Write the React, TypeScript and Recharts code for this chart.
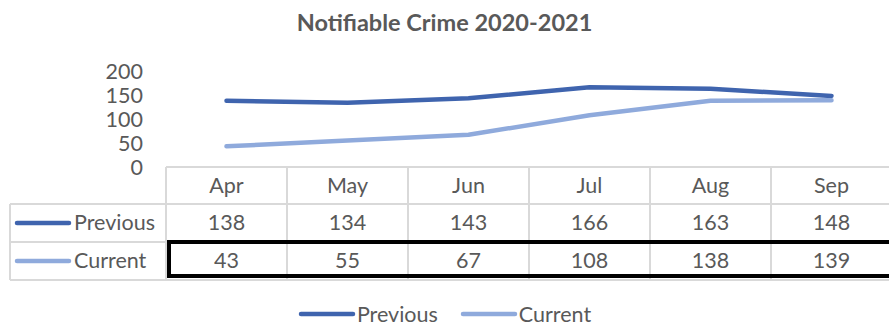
import React from 'react';
import { LineChart, Line, XAxis, YAxis } from 'recharts';

const categories = ['Apr', 'May', 'Jun', 'Jul', 'Aug', 'Sep'];
const previousValues = [138, 134, 143, 166, 163, 148];
const currentValues = [43, 55, 67, 108, 138, 139];
const yTicks = [0, 50, 100, 150, 200];
const seriesNames = ['Previous', 'Current'];
const seriesColors = ['#3F64AE', '#8FAADC'];

const data = categories.map((m, i) => ({
  month: m,
  Previous: previousValues[i],
  Current: currentValues[i],
}));

const FONT = 'Lato, sans-serif';
const TEXT = '#595959';
const GRID = '#D9D9D9';
const TABLE_LEFT = 166;
const COL_W = 121;
const KEY_LEFT = 10;
const ROW_Y = [167, 204, 242, 280];
const FS = 21.5;

const KeyLine = ({ color, width = 58 }: { color: string; width?: number }) => (
  <svg width={width} height={10} style={{ display: 'block' }}>
    <line x1={3} y1={5} x2={width - 3} y2={5} stroke={color} strokeWidth={4.5} strokeLinecap="round" />
  </svg>
);

const hLine = (y: number, x1: number, x2: number, key: string) => (
  <div key={key} style={{ position: 'absolute', left: x1, top: y - 1, width: x2 - x1, height: 2, background: GRID }} />
);
const vLine = (x: number, y1: number, y2: number, key: string) => (
  <div key={key} style={{ position: 'absolute', left: x - 1, top: y1, width: 2, height: y2 - y1, background: GRID }} />
);

const cellText = (text: string | number, x: number, yTop: number, yBot: number, key: string) => (
  <div
    key={key}
    style={{
      position: 'absolute',
      left: x,
      top: yTop,
      width: COL_W,
      height: yBot - yTop,
      display: 'flex',
      alignItems: 'center',
      justifyContent: 'center',
      fontFamily: FONT,
      fontSize: FS,
      color: TEXT,
      lineHeight: 1,
    }}
  >
    {text}
  </div>
);

export default function App() {
  const tableRight = TABLE_LEFT + COL_W * categories.length;
  const rows = [previousValues, currentValues];
  const els: React.ReactNode[] = [];
  els.push(hLine(ROW_Y[0], TABLE_LEFT, tableRight, 'h0'));
  for (let r = 1; r < ROW_Y.length; r++) els.push(hLine(ROW_Y[r], KEY_LEFT, tableRight, 'h' + r));
  els.push(vLine(KEY_LEFT, ROW_Y[1], ROW_Y[3], 'vk'));
  for (let c = 0; c <= categories.length; c++) els.push(vLine(TABLE_LEFT + c * COL_W, ROW_Y[0], ROW_Y[3], 'v' + c));
  categories.forEach((m, c) => els.push(cellText(m, TABLE_LEFT + c * COL_W, ROW_Y[0], ROW_Y[1], 'hd' + c)));
  rows.forEach((vals, r) => {
    vals.forEach((v, c) => els.push(cellText(v, TABLE_LEFT + c * COL_W, ROW_Y[r + 1], ROW_Y[r + 2], 'c' + r + c)));
    els.push(
      <div key={'k' + r} style={{ position: 'absolute', left: 14, top: ROW_Y[r + 1], height: ROW_Y[r + 2] - ROW_Y[r + 1], display: 'flex', alignItems: 'center', gap: 2, fontFamily: FONT, fontSize: FS, color: TEXT, whiteSpace: 'nowrap', lineHeight: 1 }}>
        <KeyLine color={seriesColors[r]} />
        <span>{seriesNames[r]}</span>
      </div>
    );
  });

  return (
    <div style={{ position: 'absolute', left: 0, top: 0, width: 889, height: 326, overflow: 'hidden', background: '#fff' }}>
      <div style={{ position: 'absolute', left: 0, top: 8, width: 889, textAlign: 'center', fontFamily: FONT, fontWeight: 700, fontSize: 23.5, color: TEXT, lineHeight: '28px' }}>
        Notifiable Crime 2020-2021
      </div>
      <LineChart width={tableRight} height={326} data={data} margin={{ top: 71, right: 0, bottom: 159, left: 0 }}>
        <XAxis dataKey="month" hide padding={{ left: COL_W / 2, right: COL_W / 2 }} />
        <YAxis
          width={TABLE_LEFT}
          domain={[0, 200]}
          ticks={yTicks}
          axisLine={false}
          tickLine={false}
          tickMargin={17}
          interval={0}
          tick={{ fill: TEXT, fontSize: FS, fontFamily: FONT }}
        />
        {seriesNames.map((n, i) => (
          <Line key={n} dataKey={n} stroke={seriesColors[i]} strokeWidth={4.5} strokeLinecap="round" strokeLinejoin="round" dot={false} isAnimationActive={false} />
        ))}
      </LineChart>
      {els}
      <div style={{ position: 'absolute', left: 167, top: 240, width: 740, height: 38, border: '4px solid #000', boxSizing: 'border-box' }} />
      <div style={{ position: 'absolute', left: 0, top: 302, width: 889, height: 24, display: 'flex', justifyContent: 'center', alignItems: 'center', gap: 22, fontFamily: FONT, fontSize: FS, color: TEXT, whiteSpace: 'nowrap', lineHeight: '24px' }}>
        {seriesNames.map((n, i) => (
          <div key={n} style={{ display: 'flex', alignItems: 'center', gap: 1 }}>
            <KeyLine color={seriesColors[i]} />
            <span>{n}</span>
          </div>
        ))}
      </div>
    </div>
  );
}
